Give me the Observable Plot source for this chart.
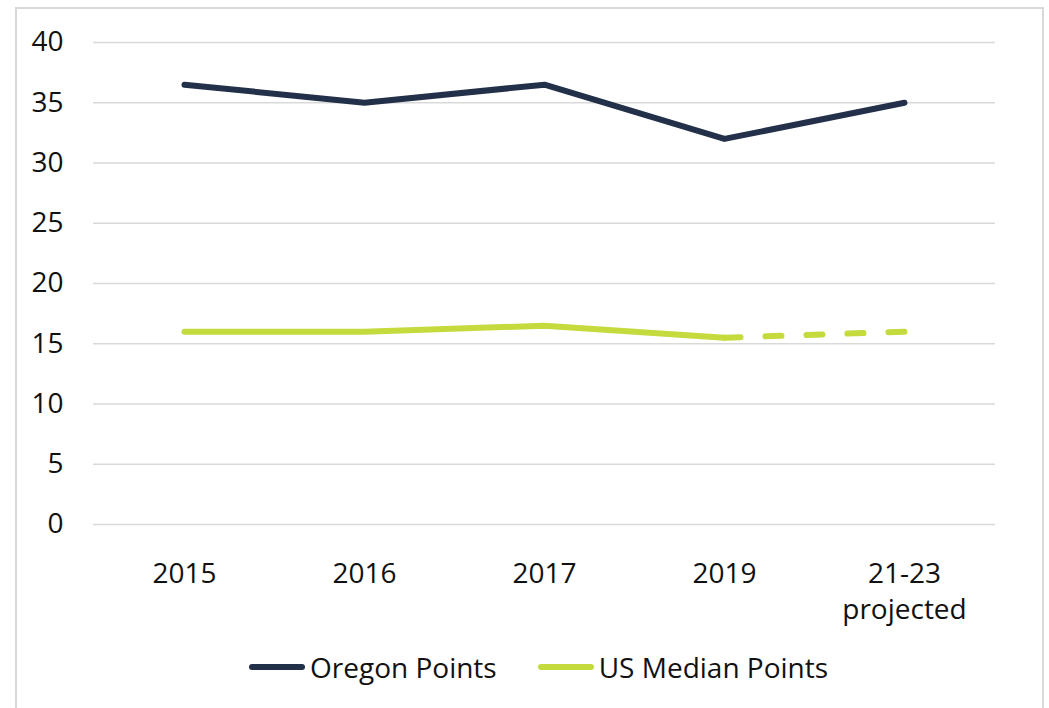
<!DOCTYPE html>
<html>
<head>
<meta charset="utf-8">
<script src="https://cdn.jsdelivr.net/npm/d3@7"></script>
<script src="https://cdn.jsdelivr.net/npm/@observablehq/plot@0.6"></script>
<style>
  html, body { margin: 0; padding: 0; background: #fff; width: 1049px; height: 708px; overflow: hidden; }
  body { position: relative; font-family: "Open Sans", sans-serif; }
  #frame { position: absolute; left: 15px; top: 7px; width: 1029px; height: 720px; border: 2px solid #d9d9d9; box-sizing: border-box; }
  #chart { position: absolute; left: 0; top: 0; }
  #legend { position: absolute; left: 249px; top: 648px; display: flex; align-items: center; font-size: 28px; color: #111; white-space: nowrap; }
  .sw { display: inline-block; width: 56px; height: 6px; border-radius: 3px; margin-right: 5px; }
  .item { display: flex; align-items: center; }
</style>
</head>
<body>
<div id="frame"></div>
<div id="chart"></div>
<div id="legend"></div>
<script>
const categories = ["2015", "2016", "2017", "2019", "21-23\nprojected"];
const oregonPoints = [36.5, 35.0, 36.5, 32.0, 35.0];
const usMedianPoints = [16.0, 16.0, 16.5, 15.5, 16.0];
const yTicks = [0, 5, 10, 15, 20, 25, 30, 35, 40];
const seriesNames = ["Oregon Points", "US Median Points"];
const seriesColors = ["#223049", "#c5da3d"];

const oregon = categories.map((c, i) => ({cat: c, value: oregonPoints[i]}));
const us = categories.map((c, i) => ({cat: c, value: usMedianPoints[i]}));
const usSolid = us.slice(0, 4);
const usDashed = us.slice(3);

const chart = Plot.plot({
  width: 1049,
  height: 630,
  marginLeft: 93,
  marginRight: 54,
  marginTop: 42,
  marginBottom: 106,
  style: {fontFamily: "'Open Sans', sans-serif", fontSize: "28px", color: "#111", background: "transparent"},
  x: {type: "point", domain: categories, padding: 0.5, label: null},
  y: {domain: [0, 40], label: null},
  marks: [
    Plot.ruleY(yTicks, {stroke: "#d9d9d9", strokeWidth: 1.5}),
    Plot.axisY({ticks: yTicks, tickSize: 0, tickPadding: 30, label: null, fontSize: 28}),
    Plot.axisX({tickSize: 0, tickPadding: 33, label: null, fontSize: 28, lineHeight: 1.28}),
    Plot.lineY(usSolid, {x: "cat", y: "value", stroke: seriesColors[1], strokeWidth: 6, strokeLinecap: "round", strokeLinejoin: "round"}),
    Plot.lineY(usDashed, {x: "cat", y: "value", stroke: seriesColors[1], strokeWidth: 6, strokeLinecap: "round", strokeDasharray: "16,25"}),
    Plot.lineY(oregon, {x: "cat", y: "value", stroke: seriesColors[0], strokeWidth: 6, strokeLinecap: "round", strokeLinejoin: "round"})
  ]
});
document.getElementById("chart").appendChild(chart);

const legend = document.getElementById("legend");
seriesNames.forEach((name, i) => {
  const item = document.createElement("span");
  item.className = "item";
  item.style.marginRight = i === 0 ? "41px" : "0";
  const sw = document.createElement("span");
  sw.className = "sw";
  sw.style.background = seriesColors[i];
  item.appendChild(sw);
  item.appendChild(document.createTextNode(name));
  legend.appendChild(item);
});
</script>
</body>
</html>
